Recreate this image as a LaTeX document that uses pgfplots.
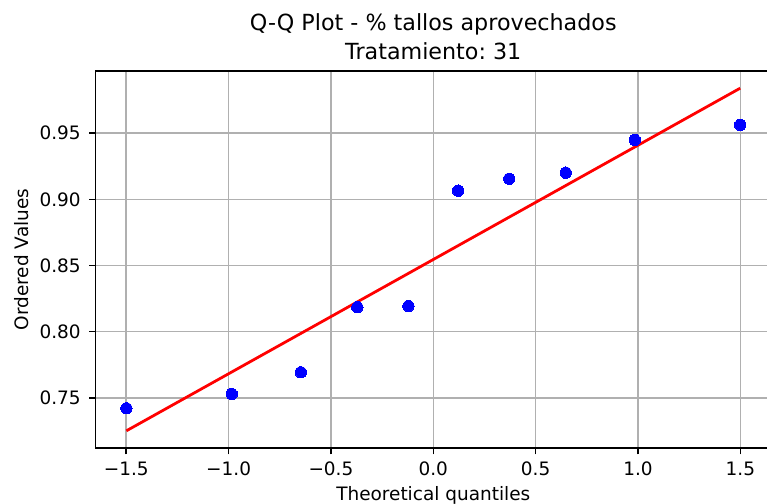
\documentclass[border=0pt]{standalone}
\usepackage{pgfplots}
\pgfplotsset{compat=1.18}
\usepackage{fontspec}
\setmainfont{DejaVu Sans}
\frenchspacing

\definecolor{gridgray}{HTML}{B0B0B0}

% ordered sample values against normal theoretical quantiles
\pgfplotstableread{
x        y
-1.4993  0.7422
-0.9845  0.7530
-0.6470  0.7694
-0.3711  0.8185
-0.1212  0.8194
 0.1212  0.9065
 0.3711  0.9155
 0.6470  0.9201
 0.9845  0.9448
 1.4993  0.9561
}\qqdata

% least-squares reference line
\pgfplotstableread{
x        y
-1.4993  0.7252
 1.4993  0.9839
}\qqline

\begin{document}
\begin{tikzpicture}
\useasboundingbox (0pt,0pt) rectangle (552.24pt,-362.88pt);
\clip (0pt,0pt) rectangle (552.24pt,-362.88pt);
\begin{axis}[
  at={(68.9pt,-322.49pt)}, anchor=south west,
  scale only axis, width=486.14pt, height=271.3pt,
  xmin=-1.6492, xmax=1.6492, ymin=0.7123, ymax=0.9968,
  xtick={-1.5,-1.0,-0.5,0,0.5,1.0,1.5},
  xticklabels={−1.5,−1.0,−0.5,0.0,0.5,1.0,1.5},
  ytick={0.75,0.80,0.85,0.90,0.95},
  yticklabels={0.75,0.80,0.85,0.90,0.95},
  xtick pos=bottom, ytick pos=left,
  tick align=outside, major tick length=4.66pt,
  tick style={black, line width=1.07pt},
  axis line style={black, line width=1.07pt},
  grid=major,
  major grid style={gridgray, line width=1.07pt},
  ticklabel style={font=\fontsize{13.3}{16}\selectfont, inner sep=0pt},
  xticklabel style={anchor=north, yshift=-5.3pt},
  yticklabel style={anchor=east, xshift=-5.94pt},
  title={Q-Q Plot - \% tallos aprovechados\\Tratamiento: 31},
  title style={at={(0.5,1)}, anchor=south, inner sep=0pt, yshift=2.2pt,
    align=center, font=\fontsize{16}{20.4}\selectfont},
  xlabel={Theoretical quantiles},
  xlabel style={at={(axis description cs:0.5,-0.1383)}, anchor=base,
    inner sep=0pt, font=\fontsize{13.3}{16}\selectfont},
  ylabel={Ordered Values},
  ylabel style={at={(axis description cs:-0.1099,0.5)}, anchor=center,
    inner sep=0pt, font=\fontsize{13.3}{16}\selectfont},
]
\addplot[only marks, mark=*, mark size=4.1pt, color=blue,
  mark options={draw=blue, fill=blue, line width=0pt}] table[x=x, y=y] {\qqdata};
\addplot[red, line width=2.0pt, no marks] table[x=x, y=y] {\qqline};
\end{axis}
\end{tikzpicture}
\end{document}
